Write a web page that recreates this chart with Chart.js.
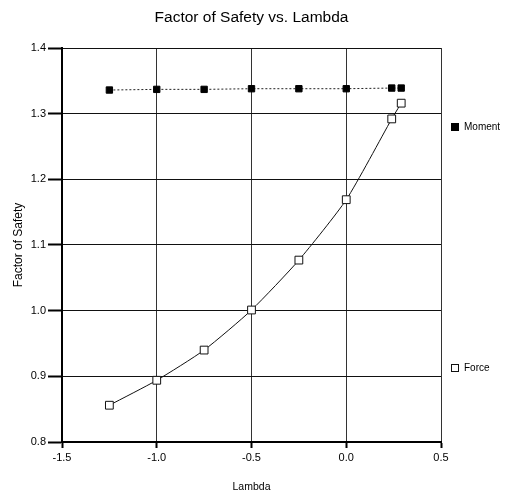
<!DOCTYPE html>
<html>
<head>
<meta charset="utf-8">
<title>Factor of Safety vs. Lambda</title>
<script src="https://cdn.jsdelivr.net/npm/chart.js@4/dist/chart.umd.min.js"></script>
<style>
  html, body { margin: 0; padding: 0; background: #fff; }
  #wrap { position: relative; width: 525px; height: 495px; }
</style>
</head>
<body>
<div id="wrap"><canvas id="fos"></canvas></div>
<script>
// lambda values and factors of safety for the two methods
const lambdaMoment = [-1.25, -1.0, -0.75, -0.5, -0.25, 0.0, 0.24, 0.29];
const momentFos    = [1.336, 1.337, 1.337, 1.338, 1.338, 1.338, 1.339, 1.339];
const lambdaForce  = [-1.25, -1.0, -0.75, -0.5, -0.25, 0.0, 0.24, 0.29];
const forceFos     = [0.856, 0.894, 0.940, 1.001, 1.077, 1.169, 1.292, 1.316];

const xTicks = [-1.5, -1.0, -0.5, 0.0, 0.5];
const yTicks = [0.8, 0.9, 1.0, 1.1, 1.2, 1.3, 1.4];

const FONT = 'Arial, "Liberation Sans", sans-serif';

const toPoints = (xs, ys) => xs.map((x, i) => ({ x: x, y: ys[i] }));

// title over the plot area
const plotTitle = {
  id: 'plotTitle',
  afterDraw(chart) {
    const { ctx, chartArea } = chart;
    ctx.save();
    ctx.fillStyle = '#000';
    ctx.font = '15.5px ' + FONT;
    ctx.textAlign = 'center';
    ctx.textBaseline = 'middle';
    ctx.fillText('Factor of Safety vs. Lambda', (chartArea.left + chartArea.right) / 2, 18);
    ctx.restore();
  }
};

// legend entries sit to the right of the plot, each at its own height
const sideLegend = {
  id: 'sideLegend',
  afterDraw(chart) {
    const { ctx } = chart;
    const rows = [{ ds: 0, y: 127 }, { ds: 1, y: 368 }];
    ctx.save();
    ctx.font = '10px ' + FONT;
    ctx.textBaseline = 'middle';
    rows.forEach(r => {
      const ds = chart.data.datasets[r.ds];
      const x = 455;
      ctx.lineWidth = 1;
      ctx.strokeStyle = ds.pointBorderColor;
      ctx.fillStyle = ds.pointBackgroundColor;
      ctx.fillRect(x - 3.5, r.y - 3.5, 7, 7);
      ctx.strokeRect(x - 3.5, r.y - 3.5, 7, 7);
      ctx.fillStyle = '#000';
      ctx.fillText(ds.label, x + 9, r.y);
    });
    ctx.restore();
  }
};

new Chart(document.getElementById('fos'), {
  type: 'scatter',
  data: {
    datasets: [
      {
        label: 'Moment',
        data: toPoints(lambdaMoment, momentFos),
        showLine: true,
        borderColor: '#222',
        borderWidth: 1,
        borderDash: [2, 2],
        pointStyle: 'rect',
        pointRadius: 4.5,
        pointBackgroundColor: '#000',
        pointBorderColor: '#000',
        pointBorderWidth: 1
      },
      {
        label: 'Force',
        data: toPoints(lambdaForce, forceFos),
        showLine: true,
        tension: 0.2,
        borderColor: '#111',
        borderWidth: 1,
        pointStyle: 'rect',
        pointRadius: 5.5,
        pointBackgroundColor: '#fff',
        pointBorderColor: '#111',
        pointBorderWidth: 1
      }
    ]
  },
  options: {
    responsive: true,
    maintainAspectRatio: false,
    animation: false,
    layout: { padding: { top: 48, right: 84, bottom: 0, left: 0 } },
    plugins: {
      legend: { display: false },
      title: { display: false },
      tooltip: { enabled: false }
    },
    scales: {
      x: {
        type: 'linear',
        min: -1.5,
        max: 0.5,
        afterBuildTicks: s => { s.ticks = xTicks.map(v => ({ value: v })); },
        afterFit: s => { s.height = 53; },
        ticks: {
          color: '#000',
          padding: 3,
          font: { family: FONT, size: 11 },
          callback: v => v.toFixed(1)
        },
        grid: { color: '#333', lineWidth: 1, tickLength: 6, tickColor: '#000', tickWidth: 2 },
        border: { color: '#000', width: 2 },
        title: {
          display: true,
          text: 'Lambda',
          color: '#000',
          font: { family: FONT, size: 10.5 },
          padding: { top: 0, bottom: 2 }
        }
      },
      y: {
        type: 'linear',
        min: 0.8,
        max: 1.4,
        afterBuildTicks: s => { s.ticks = yTicks.map(v => ({ value: v })); },
        afterFit: s => { s.width = 62; },
        ticks: {
          color: '#000',
          padding: 2,
          font: { family: FONT, size: 11 },
          callback: v => v.toFixed(1)
        },
        grid: { color: '#111', lineWidth: 1, tickLength: 14, tickColor: '#000', tickWidth: 2 },
        border: { color: '#000', width: 2 },
        title: {
          display: true,
          text: 'Factor of Safety',
          color: '#000',
          font: { family: FONT, size: 12 },
          padding: { top: 11, bottom: 0 }
        }
      }
    }
  },
  plugins: [plotTitle, sideLegend]
});
</script>
</body>
</html>
